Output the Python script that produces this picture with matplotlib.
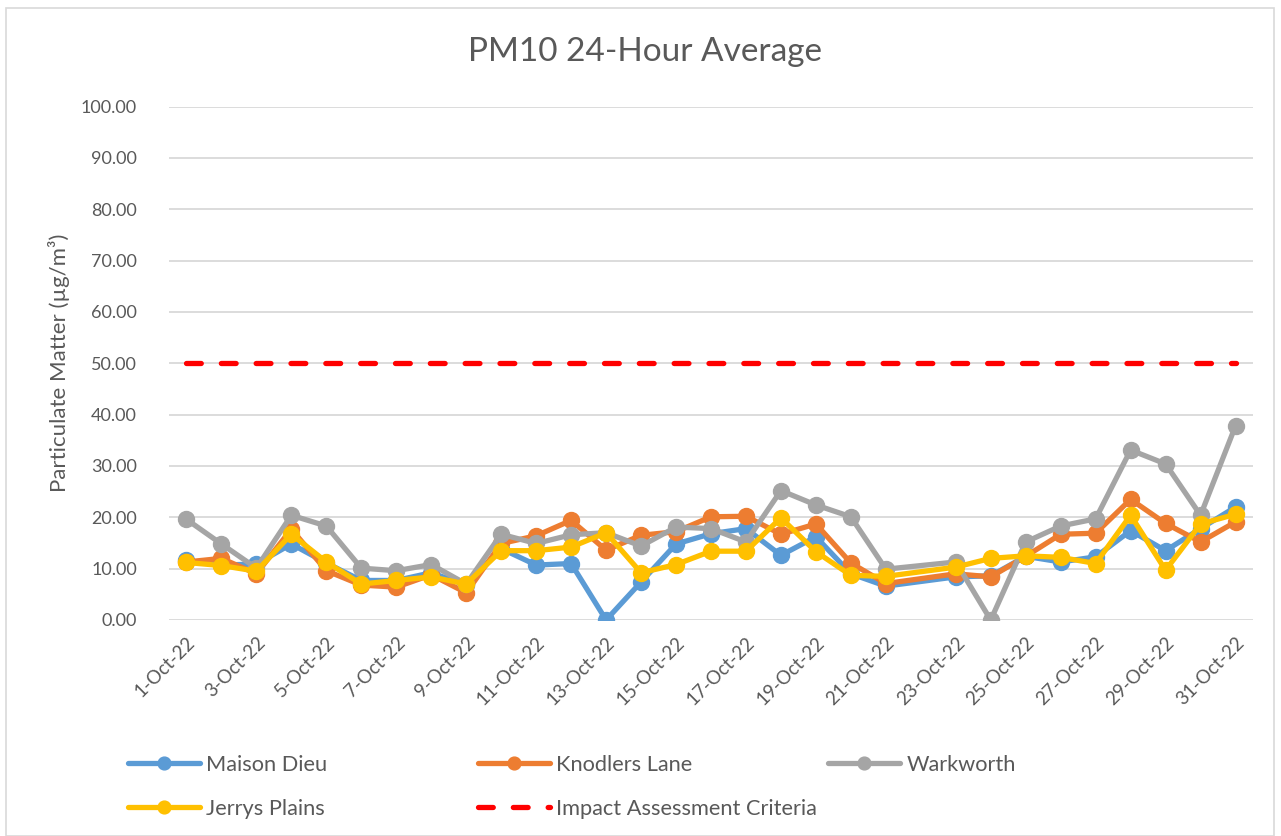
import numpy as np
import matplotlib
matplotlib.use("Agg")
import matplotlib.pyplot as plt
from matplotlib.patches import Rectangle

plt.rcParams['font.family'] = ['Lato', 'DejaVu Sans']

dates = [f"{d}-Oct-22" for d in range(1, 32)]
nan = np.nan
maison_dieu = [11.6, 10.7, 10.9, 14.8, 11.1, 7.7, 7.7, 9.2, 6.8, 13.9,
               10.7, 11.0, 0.0, 7.4, 14.8, 16.8, 17.8, 12.6, 16.2, 9.0,
               6.6, nan, 8.4, 8.6, 12.4, 11.3, 12.3, 17.4, 13.5, 17.8, 22.0]
knodlers_lane = [11.3, 12.0, 9.0, 17.7, 9.6, 6.8, 6.4, 8.8, 5.3, 14.9,
                 16.4, 19.4, 13.6, 16.5, 17.2, 20.1, 20.2, 16.7, 18.7, 11.1,
                 7.1, nan, 9.0, 8.4, 12.4, 16.7, 16.9, 23.5, 18.8, 15.2, 19.1]
warkworth = [19.6, 14.8, 10.1, 20.4, 18.3, 10.1, 9.6, 10.8, 7.0, 16.7,
             14.9, 16.6, 17.0, 14.4, 18.1, 17.8, 15.2, 25.2, 22.4, 20.1,
             9.9, nan, 11.3, 0.0, 15.2, 18.3, 19.7, 33.1, 30.4, 20.4, 37.8]
jerrys_plains = [11.2, 10.6, 9.5, 16.7, 11.3, 7.0, 7.7, 8.4, 7.0, 13.5,
                 13.5, 14.2, 17.0, 9.2, 10.8, 13.4, 13.4, 19.9, 13.3, 8.7,
                 8.5, nan, 10.3, 12.0, 12.5, 12.2, 11.0, 20.4, 9.7, 18.7, 20.6]
criteria = [50.0] * 31

series = [
    ("Maison Dieu", maison_dieu, "#5B9BD5"),
    ("Knodlers Lane", knodlers_lane, "#ED7D31"),
    ("Warkworth", warkworth, "#A5A5A5"),
    ("Jerrys Plains", jerrys_plains, "#FFC000"),
]

W, H = 1281, 836
fig = plt.figure(figsize=(W / 100, H / 100), dpi=100)
ax = fig.add_axes([169 / W, 1 - 620 / H, (1253 - 169) / W, (620 - 106.5) / H])

x = np.arange(len(dates))
handles = {}
for name, vals, col in series:
    v = np.array(vals, dtype=float)
    m = ~np.isnan(v)
    h, = ax.plot(x[m], v[m], color=col, lw=3.8, marker='o', ms=11.5,
                 solid_capstyle='round', solid_joinstyle='round', label=name, zorder=3)
    handles[name] = h
hc, = ax.plot(x, criteria, color='#FF0000', lw=3.8, dashes=(2.8, 3.8),
              dash_capstyle='round', label="Impact Assessment Criteria", zorder=2)
handles["Impact Assessment Criteria"] = hc

ax.set_xlim(-0.5, len(dates) - 0.5)
ax.set_ylim(0, 100)
ax.set_yticks(np.arange(0, 101, 10))
ax.set_yticklabels([f"{t:.2f}" for t in np.arange(0, 101, 10)])
ax.set_xticks(x[::2])
ax.set_xticklabels(dates[::2], rotation=45, ha='right', va='top', rotation_mode='anchor')
ax.grid(axis='y', color='#D9D9D9', lw=1.3, zorder=0)
ax.set_axisbelow(True)
for s in ax.spines.values():
    s.set_visible(False)
ax.tick_params(axis='both', length=0, labelcolor='#595959')
ax.tick_params(axis='y', pad=23, labelsize=13)
ax.tick_params(axis='x', pad=10, labelsize=13.5)
ax.set_ylabel("Particulate Matter (µg/m³)", fontsize=16, color='#595959', labelpad=8)

fig.text(645 / W, 1 - 52 / H, "PM10 24-Hour Average", ha='center', va='center',
         fontsize=24, color='#595959')

cols = [["Maison Dieu", "Jerrys Plains"], ["Knodlers Lane", "Impact Assessment Criteria"], ["Warkworth"]]
xs = [128, 478, 828]
for names, xp in zip(cols, xs):
    leg = fig.legend([handles[n] for n in names], names, loc='upper left',
                     bbox_to_anchor=(xp / W, 1 - 755 / H), frameon=False,
                     fontsize=15.7, handlelength=3.3, handletextpad=0.3,
                     labelspacing=1.1, borderaxespad=0, borderpad=0, markerscale=0.8)
    for t in leg.get_texts():
        t.set_color('#595959')

fig.patches.append(Rectangle((6 / W, 0), (1274 - 6) / W, 1 - 8 / H, transform=fig.transFigure,
                             fill=False, edgecolor='#D9D9D9', lw=1.2))

fig.savefig("out.png", dpi=100)
